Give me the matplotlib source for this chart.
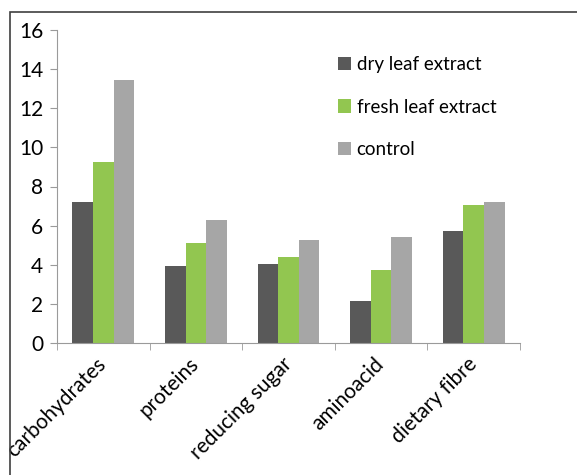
import numpy as np
import matplotlib.pyplot as plt
from matplotlib.patches import Rectangle

plt.rcParams['font.family'] = ['Lato', 'DejaVu Sans']

categories = ['carbohydrates', 'proteins', 'reducing sugar', 'aminoacid', 'dietary fibre']
dry_leaf = [7.22, 3.94, 4.06, 2.15, 5.74]
fresh_leaf = [9.24, 5.12, 4.42, 3.72, 7.04]
control = [13.42, 6.30, 5.26, 5.41, 7.21]

series = [('dry leaf extract', dry_leaf, '#595959'),
          ('fresh leaf extract', fresh_leaf, '#92c650'),
          ('control', control, '#a6a6a6')]

fig = plt.figure(figsize=(5.77, 4.75), dpi=100)
# outer chart frame (cut at right/bottom like the reference)
fig.patches.append(Rectangle((10 / 577, -0.1), 1.2, 1 - 12 / 475 + 0.1,
                             transform=fig.transFigure, fill=False,
                             edgecolor='#404040', linewidth=1.2))

ax = fig.add_axes([57 / 577, 1 - 343 / 475, 463 / 577, 313 / 475])

x = np.arange(len(categories))
w = 0.222
for i, (name, vals, col) in enumerate(series):
    ax.bar(x + (i - 1) * w, vals, width=w, color=col, label=name)

ax.set_ylim(0, 16)
ax.set_xlim(-0.5, len(categories) - 0.5)
ax.set_yticks(range(0, 17, 2))
ax.set_xticks(x)
ax.set_xticklabels(categories, rotation=45, ha='right', va='center',
                   rotation_mode='anchor')
ax.set_xticks(np.arange(-0.5, len(categories)), minor=True)
ax.tick_params(axis='x', which='major', length=0, pad=13, labelsize=15)
ax.tick_params(axis='x', which='minor', length=5, color='#9a9a9a', direction='out')
ax.tick_params(axis='y', length=5, color='#9a9a9a', labelsize=15, pad=5)

for s in ['top', 'right']:
    ax.spines[s].set_visible(False)
for s in ['left', 'bottom']:
    ax.spines[s].set_color('#9a9a9a')

ax.legend(loc='upper left', bbox_to_anchor=(0.57, 0.97), frameon=False,
          fontsize=13.5, handlelength=0.7, handleheight=0.7, handletextpad=0.3,
          labelspacing=1.35)

plt.savefig('out.png', dpi=100)
